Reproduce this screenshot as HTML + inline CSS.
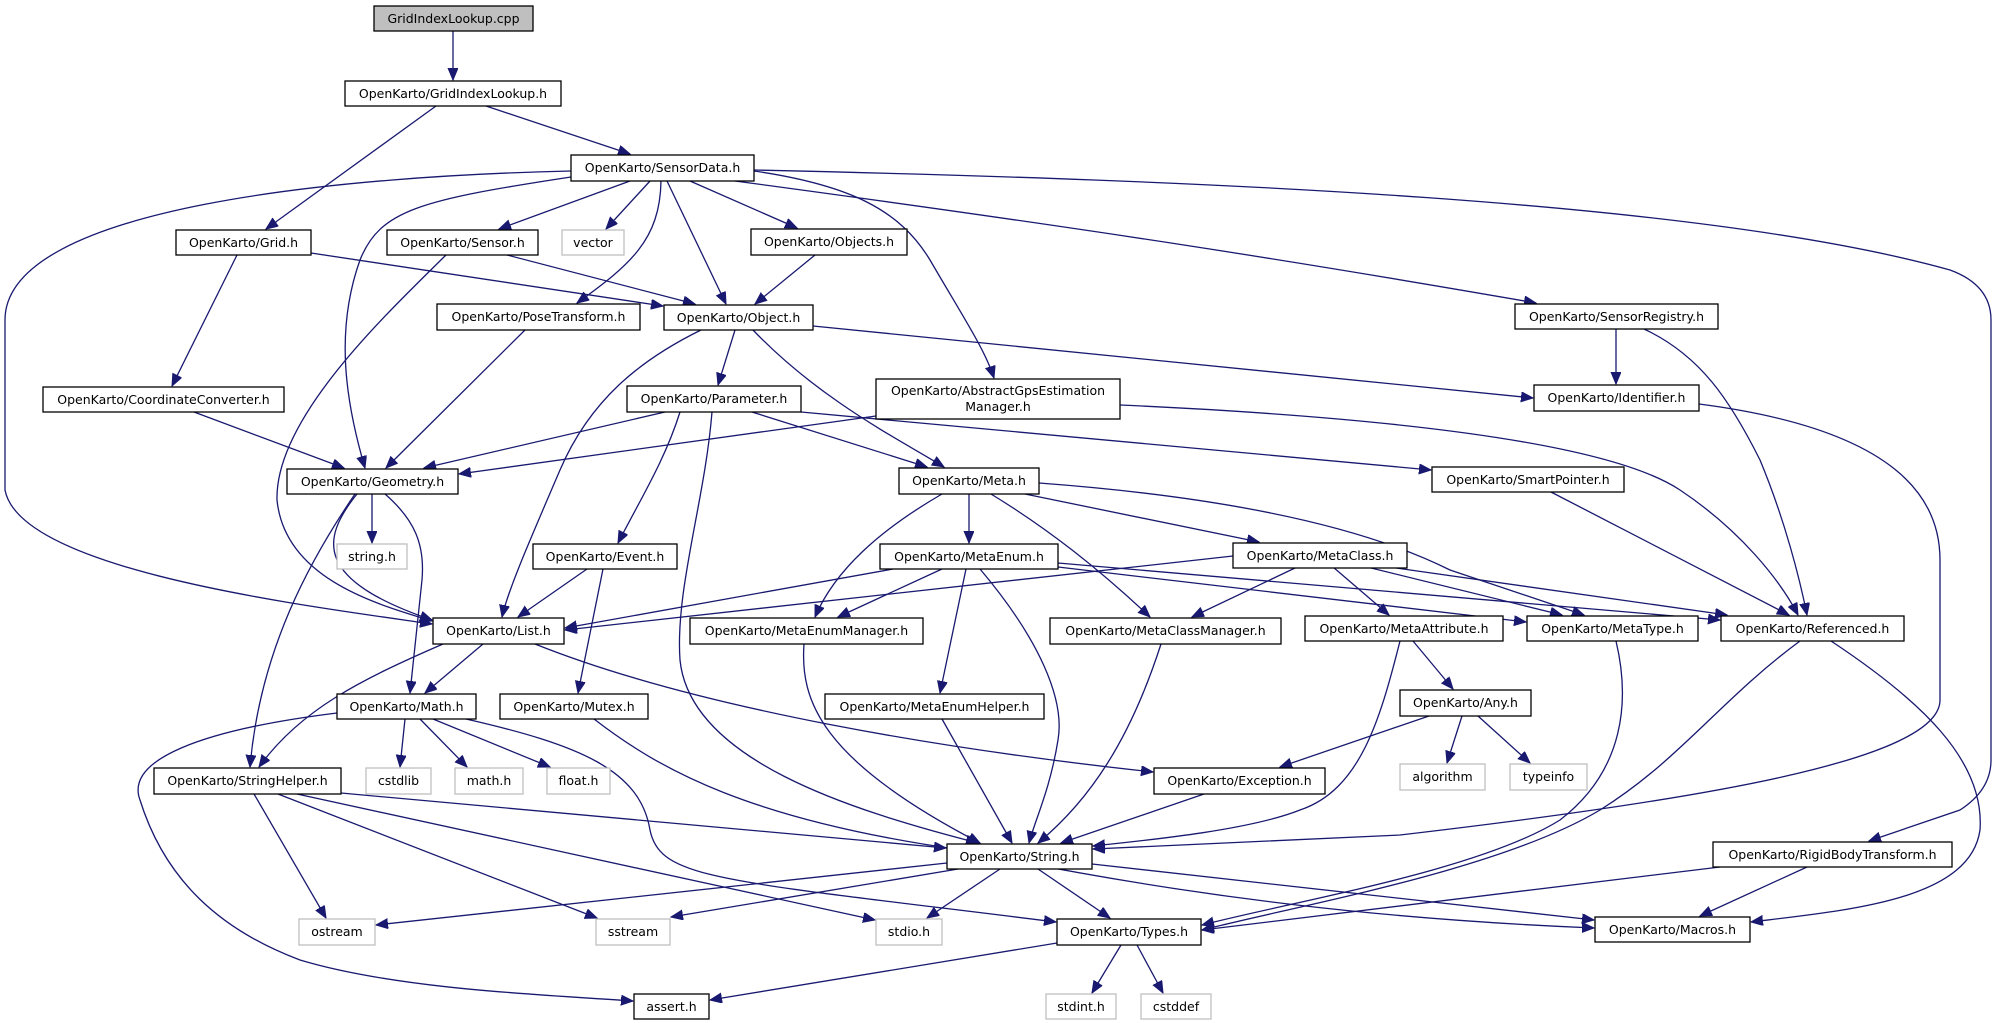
<!DOCTYPE html>
<html><head><meta charset="utf-8"><style>
html,body{margin:0;padding:0;background:#fff;}
svg{display:block;}
text{font-family:"DejaVu Sans","Liberation Sans",sans-serif;font-size:12.5px;fill:#000;text-anchor:middle;}
.n{fill:#fff;stroke:#000;stroke-width:1.3;}
.g{fill:#fff;stroke:#bfbfbf;stroke-width:1.3;}
.e{fill:none;stroke:#191970;stroke-width:1.3;marker-end:url(#ah);}
</style></head><body>
<svg width="1996" height="1023" viewBox="0 0 1996 1023" xmlns="http://www.w3.org/2000/svg">
<defs><marker id="ah" markerUnits="userSpaceOnUse" markerWidth="14" markerHeight="12" refX="12" refY="5" orient="auto"><path d="M0,0 L12,5 L0,10 z" fill="#191970" stroke="#191970"/></marker></defs>
<g>
<path class="e" d="M453,31 L453,80"/>
<path class="e" d="M436,106 L266,229"/>
<path class="e" d="M486,106 L630,154"/>
<path class="e" d="M571,171 C350,176 5,205 5,320 L5,490 C20,570 300,605 432,624"/>
<path class="e" d="M571,177 C420,200 380,210 360,260 C335,330 345,400 365,468"/>
<path class="e" d="M630,181 L499,229"/>
<path class="e" d="M650,181 L606,229"/>
<path class="e" d="M661,181 C660,240 630,265 577,303"/>
<path class="e" d="M667,181 L726,304"/>
<path class="e" d="M690,181 L797,228"/>
<path class="e" d="M754,171 C850,185 900,210 930,260 C965,320 985,350 994,378"/>
<path class="e" d="M735,181 C1100,230 1300,262 1536,303"/>
<path class="e" d="M754,170 C1200,180 1700,200 1950,270 Q1991,285 1991,320 L1991,760 Q1991,790 1960,810 L1869,841"/>
<path class="e" d="M311,253 L663,306"/>
<path class="e" d="M237,255 L172,386"/>
<path class="e" d="M507,255 L695,304"/>
<path class="e" d="M446,255 C380,320 275,420 277,500 C285,580 380,605 432,621"/>
<path class="e" d="M815,255 L755,304"/>
<path class="e" d="M525,330 L386,468"/>
<path class="e" d="M701,330 C640,360 590,400 560,470 C530,540 508,590 502,617"/>
<path class="e" d="M735,330 L718,385"/>
<path class="e" d="M753,330 C820,400 900,440 944,467"/>
<path class="e" d="M813,326 L1533,398"/>
<path class="e" d="M194,412 L344,468"/>
<path class="e" d="M665,412 L424,468"/>
<path class="e" d="M680,412 C665,460 640,500 618,543"/>
<path class="e" d="M712,412 C705,500 675,590 680,660 C690,760 850,810 978,843"/>
<path class="e" d="M752,412 L927,467"/>
<path class="e" d="M801,412 C1100,440 1300,458 1431,470"/>
<path class="e" d="M876,416 L459,474"/>
<path class="e" d="M1120,405 C1450,420 1620,450 1680,490 C1740,530 1780,580 1798,615"/>
<path class="e" d="M1616,329 L1616,384"/>
<path class="e" d="M1644,329 C1700,355 1730,400 1760,460 C1785,520 1800,580 1807,615"/>
<path class="e" d="M1699,404 C1900,430 1940,500 1940,560 L1940,700 C1940,760 1700,800 1400,835 L1093,849"/>
<path class="e" d="M1551,492 L1789,615"/>
<path class="e" d="M372,494 L372,543"/>
<path class="e" d="M357,494 C320,540 315,580 432,620"/>
<path class="e" d="M355,494 C310,560 260,650 250,767"/>
<path class="e" d="M385,494 C415,520 425,545 422,580 L410,693"/>
<path class="e" d="M443,644 C360,680 300,710 259,767"/>
<path class="e" d="M483,644 L425,693"/>
<path class="e" d="M535,644 C700,710 950,750 1153,772"/>
<path class="e" d="M587,569 L518,617"/>
<path class="e" d="M603,569 L578,693"/>
<path class="e" d="M942,494 C880,530 835,570 815,617"/>
<path class="e" d="M969,494 L969,543"/>
<path class="e" d="M991,494 C1050,530 1100,570 1150,617"/>
<path class="e" d="M1025,494 L1259,542"/>
<path class="e" d="M1039,483 C1200,495 1350,520 1450,570 L1584,615"/>
<path class="e" d="M893,569 L565,628"/>
<path class="e" d="M942,569 L838,617"/>
<path class="e" d="M966,569 L940,693"/>
<path class="e" d="M980,569 C1040,640 1065,700 1058,740 C1050,790 1035,820 1029,843"/>
<path class="e" d="M1058,563 L1720,620"/>
<path class="e" d="M1058,567 L1526,622"/>
<path class="e" d="M1233,556 L565,630"/>
<path class="e" d="M1295,568 L1192,617"/>
<path class="e" d="M1333,567 L1389,615"/>
<path class="e" d="M1367,567 L1562,615"/>
<path class="e" d="M1389,567 L1727,615"/>
<path class="e" d="M804,644 C800,700 820,760 980,843"/>
<path class="e" d="M1161,644 C1130,740 1090,800 1038,843"/>
<path class="e" d="M1413,641 L1453,689"/>
<path class="e" d="M1400,641 C1380,720 1360,790 1300,810 C1250,830 1150,840 1093,846"/>
<path class="e" d="M1616,641 C1630,700 1625,770 1560,820 C1480,870 1300,900 1202,925"/>
<path class="e" d="M1800,641 C1720,700 1680,760 1600,810 C1500,870 1300,905 1202,930"/>
<path class="e" d="M1831,641 C1920,700 1985,760 1980,830 C1970,900 1850,910 1751,922"/>
<path class="e" d="M1429,716 L1280,767"/>
<path class="e" d="M1462,716 L1447,763"/>
<path class="e" d="M1478,716 L1530,763"/>
<path class="e" d="M942,719 L1012,843"/>
<path class="e" d="M1204,794 L1061,843"/>
<path class="e" d="M594,719 C660,770 750,820 962,850 C1200,900 1400,920 1594,928"/>
<path class="e" d="M337,713 C200,730 125,760 140,800 C165,880 220,930 300,960 C400,990 550,995 633,1001"/>
<path class="e" d="M405,719 L400,767"/>
<path class="e" d="M420,719 L467,767"/>
<path class="e" d="M433,719 L550,767"/>
<path class="e" d="M466,719 C580,745 640,770 650,830 C660,880 720,880 1056,922"/>
<path class="e" d="M254,794 L326,918"/>
<path class="e" d="M278,794 L597,918"/>
<path class="e" d="M297,794 L875,920"/>
<path class="e" d="M341,793 L946,848"/>
<path class="e" d="M947,863 L376,925"/>
<path class="e" d="M958,869 L671,917"/>
<path class="e" d="M1000,869 L927,918"/>
<path class="e" d="M1038,869 L1110,918"/>
<path class="e" d="M1092,864 L1594,920"/>
<path class="e" d="M1057,943 L710,1000"/>
<path class="e" d="M1121,945 L1092,993"/>
<path class="e" d="M1137,945 L1163,993"/>
<path class="e" d="M1720,867 L1202,930"/>
<path class="e" d="M1807,867 L1700,916"/>
</g>
<g>
<rect x="374" y="6" width="159" height="25" fill="#bfbfbf" stroke="#000" stroke-width="1.3"/><text x="453.5" y="23">GridIndexLookup.cpp</text>
<rect class="n" x="345" y="81" width="216" height="25"/><text x="453" y="98">OpenKarto/GridIndexLookup.h</text>
<rect class="n" x="571" y="155" width="183" height="26"/><text x="662.5" y="172">OpenKarto/SensorData.h</text>
<rect class="n" x="176" y="230" width="135" height="25"/><text x="243.5" y="247">OpenKarto/Grid.h</text>
<rect class="n" x="387" y="230" width="151" height="25"/><text x="462.5" y="247">OpenKarto/Sensor.h</text>
<rect class="g" x="562" y="230" width="62" height="25"/><text x="593" y="247">vector</text>
<rect class="n" x="751" y="229" width="156" height="26"/><text x="829" y="246">OpenKarto/Objects.h</text>
<rect class="n" x="437" y="304" width="203" height="26"/><text x="538.5" y="321">OpenKarto/PoseTransform.h</text>
<rect class="n" x="664" y="305" width="149" height="25"/><text x="738.5" y="322">OpenKarto/Object.h</text>
<rect class="n" x="1515" y="304" width="203" height="25"/><text x="1616.5" y="321">OpenKarto/SensorRegistry.h</text>
<rect class="n" x="43" y="387" width="241" height="25"/><text x="163.5" y="404">OpenKarto/CoordinateConverter.h</text>
<rect class="n" x="627" y="386" width="174" height="26"/><text x="714" y="403">OpenKarto/Parameter.h</text>
<rect class="n" x="876" y="379" width="244" height="40"/><text x="998" y="395">OpenKarto/AbstractGpsEstimation</text><text x="998" y="411">Manager.h</text>
<rect class="n" x="1534" y="385" width="165" height="26"/><text x="1616.5" y="402">OpenKarto/Identifier.h</text>
<rect class="n" x="287" y="469" width="171" height="25"/><text x="372.5" y="486">OpenKarto/Geometry.h</text>
<rect class="n" x="899" y="468" width="140" height="26"/><text x="969" y="485">OpenKarto/Meta.h</text>
<rect class="n" x="1432" y="467" width="192" height="25"/><text x="1528" y="484">OpenKarto/SmartPointer.h</text>
<rect class="g" x="337" y="544" width="70" height="25"/><text x="372" y="561">string.h</text>
<rect class="n" x="533" y="544" width="144" height="25"/><text x="605" y="561">OpenKarto/Event.h</text>
<rect class="n" x="880" y="544" width="178" height="25"/><text x="969" y="561">OpenKarto/MetaEnum.h</text>
<rect class="n" x="1233" y="543" width="174" height="25"/><text x="1320" y="560">OpenKarto/MetaClass.h</text>
<rect class="n" x="433" y="618" width="131" height="26"/><text x="498.5" y="635">OpenKarto/List.h</text>
<rect class="n" x="690" y="618" width="233" height="26"/><text x="806.5" y="635">OpenKarto/MetaEnumManager.h</text>
<rect class="n" x="1050" y="618" width="231" height="26"/><text x="1165.5" y="635">OpenKarto/MetaClassManager.h</text>
<rect class="n" x="1305" y="616" width="198" height="25"/><text x="1404" y="633">OpenKarto/MetaAttribute.h</text>
<rect class="n" x="1527" y="616" width="171" height="25"/><text x="1612.5" y="633">OpenKarto/MetaType.h</text>
<rect class="n" x="1721" y="616" width="183" height="25"/><text x="1812.5" y="633">OpenKarto/Referenced.h</text>
<rect class="n" x="337" y="694" width="139" height="25"/><text x="406.5" y="711">OpenKarto/Math.h</text>
<rect class="n" x="500" y="694" width="148" height="25"/><text x="574" y="711">OpenKarto/Mutex.h</text>
<rect class="n" x="825" y="694" width="219" height="25"/><text x="934.5" y="711">OpenKarto/MetaEnumHelper.h</text>
<rect class="n" x="1400" y="690" width="131" height="26"/><text x="1465.5" y="707">OpenKarto/Any.h</text>
<rect class="n" x="154" y="768" width="187" height="26"/><text x="247.5" y="785">OpenKarto/StringHelper.h</text>
<rect class="g" x="366" y="768" width="65" height="26"/><text x="398.5" y="785">cstdlib</text>
<rect class="g" x="455" y="768" width="68" height="26"/><text x="489" y="785">math.h</text>
<rect class="g" x="547" y="768" width="63" height="26"/><text x="578.5" y="785">float.h</text>
<rect class="n" x="1154" y="768" width="171" height="26"/><text x="1239.5" y="785">OpenKarto/Exception.h</text>
<rect class="g" x="1400" y="764" width="85" height="26"/><text x="1442.5" y="781">algorithm</text>
<rect class="g" x="1510" y="764" width="77" height="26"/><text x="1548.5" y="781">typeinfo</text>
<rect class="n" x="947" y="844" width="145" height="25"/><text x="1019.5" y="861">OpenKarto/String.h</text>
<rect class="n" x="1713" y="842" width="239" height="25"/><text x="1832.5" y="859">OpenKarto/RigidBodyTransform.h</text>
<rect class="g" x="299" y="919" width="76" height="26"/><text x="337" y="936">ostream</text>
<rect class="g" x="596" y="919" width="74" height="26"/><text x="633" y="936">sstream</text>
<rect class="g" x="876" y="919" width="66" height="26"/><text x="909" y="936">stdio.h</text>
<rect class="n" x="1057" y="919" width="144" height="26"/><text x="1129" y="936">OpenKarto/Types.h</text>
<rect class="n" x="1595" y="917" width="155" height="25"/><text x="1672.5" y="934">OpenKarto/Macros.h</text>
<rect class="n" x="634" y="994" width="75" height="25"/><text x="671.5" y="1011">assert.h</text>
<rect class="g" x="1046" y="994" width="70" height="25"/><text x="1081" y="1011">stdint.h</text>
<rect class="g" x="1141" y="994" width="70" height="25"/><text x="1176" y="1011">cstddef</text>
</g>
</svg>
</body></html>
